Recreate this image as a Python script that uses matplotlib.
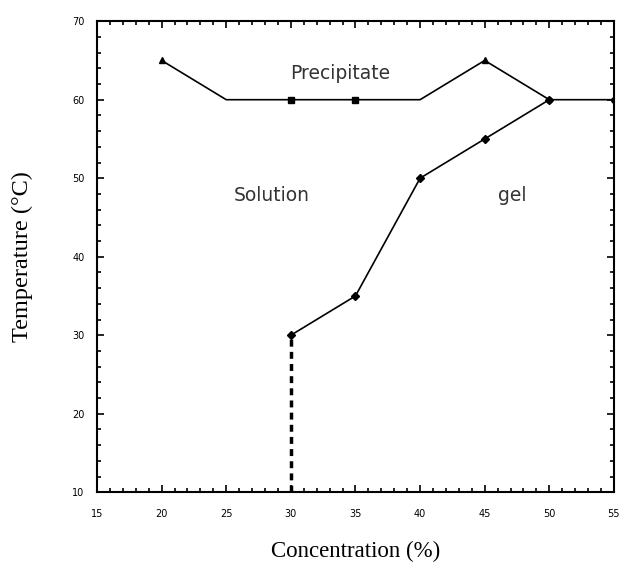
import matplotlib.pyplot as plt
from matplotlib.ticker import MultipleLocator

# precipitation boundary
precip_x = [20, 25, 30, 35, 40, 45, 50, 55]
precip_y = [65, 60, 60, 60, 60, 65, 60, 60]
tri_x = [20, 45]
tri_y = [65, 65]
sq_x = [30, 35]
sq_y = [60, 60]
dot_x = [50, 55]
dot_y = [60, 60]

# sol-gel boundary
gel_x = [30, 35, 40, 45, 50]
gel_y = [30, 35, 50, 55, 60]

fig = plt.figure(figsize=(6.22, 5.73), dpi=100)
ax = fig.add_axes([0.156, 0.141, 0.831, 0.822])

ax.plot(precip_x, precip_y, color='black', lw=1.2)
ax.plot(tri_x, tri_y, '^', color='black', ms=5)
ax.plot(sq_x, sq_y, 's', color='black', ms=4)
ax.plot(dot_x, dot_y, 'o', color='black', ms=4)

ax.plot(gel_x, gel_y, color='black', lw=1.2, marker='D', ms=4)
ax.plot([gel_x[0], gel_x[0]], [10, gel_y[0]], color='black', lw=2.5, ls=(0, (2, 1.5)))

lab = dict(fontsize=13.5, ha='center', va='center', color='#333333')
ax.text(33.8, 63.4, 'Precipitate', **lab)
ax.text(28.5, 47.8, 'Solution', **lab)
ax.text(47.1, 47.8, 'gel', **lab)

ax.set_xlim(15, 55)
ax.set_ylim(10, 70)
ax.xaxis.set_major_locator(MultipleLocator(5))
ax.xaxis.set_minor_locator(MultipleLocator(1))
ax.yaxis.set_major_locator(MultipleLocator(10))
ax.yaxis.set_minor_locator(MultipleLocator(2))
ax.tick_params(which='both', direction='in', top=True, right=True, labelsize=7, width=1.2)
ax.tick_params(which='major', length=5)
ax.tick_params(which='minor', length=3)
ax.tick_params(axis='x', which='major', pad=12)
ax.tick_params(axis='y', which='major', pad=9)
for s in ax.spines.values():
    s.set_linewidth(1.5)

ax.set_xlabel('Concentration (%)', fontsize=16.5, family='Liberation Serif', labelpad=16)
ax.set_ylabel('Temperature (°C)', fontsize=17.5, family='Liberation Serif', labelpad=28)

fig.savefig('out.png', dpi=100)
